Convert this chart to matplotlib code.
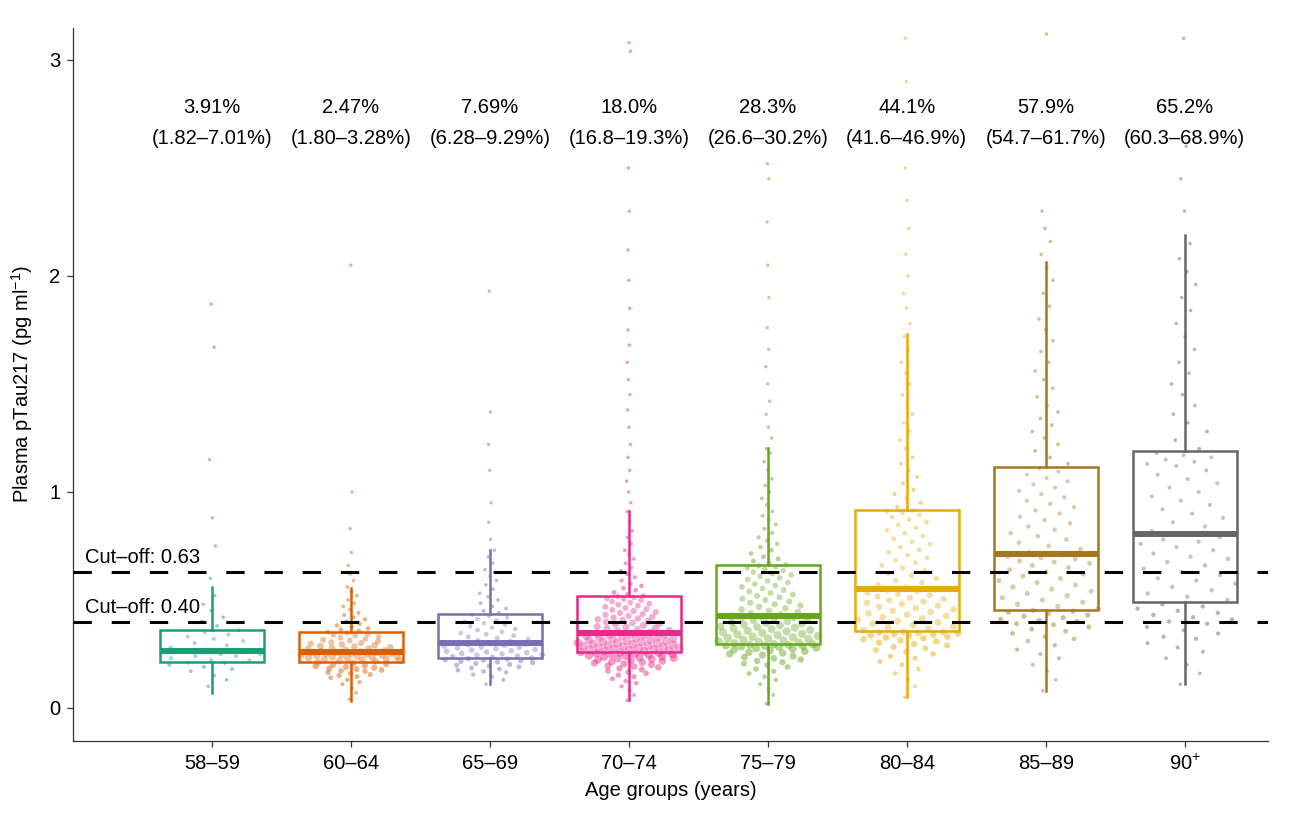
import matplotlib
matplotlib.use("Agg")
import matplotlib.pyplot as plt
import numpy as np

plt.rcParams['font.family'] = ['Liberation Sans', 'DejaVu Sans']
plt.rcParams['mathtext.fontset'] = 'custom'
plt.rcParams['mathtext.rm'] = 'Liberation Sans'
plt.rcParams['mathtext.it'] = 'Liberation Sans'

groups = ["58–59", "60–64", "65–69", "70–74", "75–79", "80–84", "85–89", "90$^{+}$"]
colors = ["#1B9E77", "#D95F02", "#7570B3", "#E7298A", "#66A61E", "#E6AB02", "#A6761D", "#666666"]

# box statistics
q1 = [0.211, 0.215, 0.230, 0.258, 0.297, 0.356, 0.455, 0.489]
med = [0.262, 0.261, 0.302, 0.347, 0.428, 0.550, 0.713, 0.804]
q3 = [0.360, 0.353, 0.434, 0.519, 0.664, 0.915, 1.117, 1.190]
whis_lo = [0.071, 0.034, 0.111, 0.035, 0.020, 0.050, 0.080, 0.110]
whis_hi = [0.562, 0.556, 0.730, 0.912, 1.204, 1.730, 2.065, 2.190]

pct = ["3.91%", "2.47%", "7.69%", "18.0%", "28.3%", "44.1%", "57.9%", "65.2%"]
ci = ["(1.82–7.01%)", "(1.80–3.28%)", "(6.28–9.29%)", "(16.8–19.3%)",
      "(26.6–30.2%)", "(41.6–46.9%)", "(54.7–61.7%)", "(60.3–68.9%)"]

cutoffs = [0.63, 0.40]

# individual measurements (estimated from the point clouds)
pts_58 = [0.10, 0.13, 0.15, 0.17, 0.18, 0.19, 0.20, 0.21, 0.21, 0.22, 0.22, 0.23, 0.24, 0.24,
          0.25, 0.25, 0.26, 0.26, 0.27, 0.28, 0.29, 0.30, 0.31, 0.32, 0.33, 0.34, 0.35, 0.36,
          0.38, 0.40, 0.42, 0.45, 0.48, 0.52, 0.60, 0.75, 0.88, 1.15, 1.67, 1.87]
pts_60 = [0.04, 0.07, 0.09, 0.11, 0.12, 0.13, 0.14, 0.145, 0.15, 0.155, 0.16, 0.165, 0.17, 0.172,
          0.176, 0.18, 0.183, 0.186, 0.19, 0.193, 0.197, 0.20, 0.204, 0.208, 0.212,
          0.216, 0.218, 0.221, 0.223, 0.225, 0.228, 0.23, 0.232, 0.234, 0.236, 0.238, 0.24,
          0.242, 0.244, 0.246, 0.248, 0.25, 0.251, 0.253, 0.254, 0.256, 0.257, 0.258, 0.259, 0.26,
          0.262, 0.265, 0.268, 0.271, 0.274, 0.277, 0.28, 0.284, 0.287, 0.29, 0.294, 0.297, 0.30,
          0.304, 0.308, 0.312, 0.316, 0.32, 0.325, 0.33, 0.334, 0.338, 0.342, 0.347, 0.351,
          0.356, 0.362, 0.368, 0.375, 0.382, 0.39, 0.40, 0.41, 0.42, 0.43, 0.44, 0.455, 0.47,
          0.485, 0.50, 0.52, 0.54, 0.56, 0.59, 0.62, 0.66, 0.72, 0.83, 1.0, 2.05]
pts_65 = [0.11, 0.13, 0.145, 0.155, 0.165, 0.17, 0.175, 0.18, 0.185, 0.19, 0.194, 0.198, 0.202,
          0.206, 0.21, 0.213, 0.216, 0.219, 0.222, 0.224, 0.227, 0.229,
          0.232, 0.235, 0.238, 0.241, 0.244, 0.247, 0.25, 0.253, 0.256, 0.259, 0.262, 0.265,
          0.268, 0.271, 0.274, 0.277, 0.28, 0.283, 0.286, 0.289, 0.292, 0.295, 0.298,
          0.303, 0.308, 0.313, 0.318, 0.323, 0.329, 0.335, 0.341, 0.347, 0.353, 0.36, 0.366,
          0.372, 0.378, 0.385, 0.392, 0.399, 0.405, 0.412, 0.418, 0.425, 0.431,
          0.44, 0.45, 0.46, 0.47, 0.485, 0.50, 0.515, 0.53, 0.55, 0.57, 0.59, 0.61, 0.64, 0.67,
          0.70, 0.73, 0.78, 0.86, 0.95, 1.1, 1.22, 1.37, 1.93]
pts_70 = [0.035, 0.06, 0.08, 0.10, 0.115, 0.125, 0.135, 0.145, 0.152, 0.16, 0.166, 0.172, 0.178,
          0.183, 0.188, 0.192, 0.196, 0.20, 0.204, 0.208, 0.211, 0.214, 0.217, 0.22, 0.223,
          0.226, 0.229, 0.231, 0.234, 0.236, 0.239, 0.241, 0.243, 0.246, 0.248, 0.25, 0.252,
          0.254, 0.256, 0.257,
          0.26, 0.262, 0.264, 0.266, 0.268, 0.27, 0.272, 0.274, 0.276, 0.278, 0.28, 0.282, 0.284,
          0.286, 0.288, 0.29, 0.292, 0.294, 0.296, 0.298, 0.30, 0.302, 0.305, 0.307, 0.309,
          0.311, 0.314, 0.316, 0.318, 0.321, 0.323, 0.326, 0.328, 0.331, 0.333, 0.336, 0.338,
          0.341, 0.343, 0.346,
          0.35, 0.354, 0.358, 0.362, 0.366, 0.37, 0.374, 0.378, 0.382, 0.386, 0.39, 0.394, 0.398,
          0.402, 0.406, 0.41, 0.414, 0.418, 0.422, 0.426, 0.431, 0.435, 0.44, 0.444, 0.449,
          0.454, 0.458, 0.463, 0.468, 0.473, 0.478, 0.483, 0.488, 0.493, 0.498, 0.503, 0.507,
          0.511, 0.515, 0.518,
          0.525, 0.535, 0.545, 0.555, 0.565, 0.575, 0.59, 0.605, 0.62, 0.635, 0.65, 0.67, 0.69,
          0.71, 0.73, 0.76, 0.79, 0.82, 0.86, 0.91, 0.95, 1.0, 1.05, 1.1, 1.16, 1.22, 1.3, 1.38,
          1.45, 1.52, 1.6, 1.68, 1.75, 1.85, 1.98, 2.12, 2.3, 2.5, 3.04, 3.08]
pts_75 = [0.02, 0.06, 0.09, 0.11, 0.13, 0.145, 0.16, 0.17, 0.18, 0.19, 0.198, 0.205, 0.212,
          0.218, 0.224, 0.23, 0.235, 0.24, 0.245, 0.25, 0.254, 0.258, 0.262, 0.266, 0.27,
          0.273, 0.276, 0.279, 0.282, 0.284, 0.286, 0.288, 0.29, 0.292, 0.293, 0.295, 0.296,
          0.30, 0.303, 0.306, 0.309, 0.312, 0.315, 0.318, 0.321, 0.324, 0.327, 0.33, 0.333,
          0.337, 0.34, 0.343, 0.347, 0.35, 0.354, 0.357, 0.361, 0.364, 0.368, 0.371, 0.375,
          0.378, 0.382, 0.386, 0.39, 0.393, 0.397, 0.401, 0.405, 0.408, 0.412, 0.416, 0.419,
          0.423, 0.426,
          0.432, 0.438, 0.444, 0.45, 0.456, 0.462, 0.468, 0.474, 0.48, 0.487, 0.493, 0.5, 0.506,
          0.512, 0.519, 0.525, 0.532, 0.539, 0.546, 0.553, 0.56, 0.567, 0.574, 0.581, 0.588,
          0.595, 0.602, 0.609, 0.616, 0.622, 0.629, 0.636, 0.642, 0.648, 0.653, 0.658, 0.662,
          0.67, 0.68, 0.69, 0.70, 0.715, 0.73, 0.745, 0.76, 0.775, 0.79, 0.81, 0.83, 0.85, 0.87,
          0.89, 0.91, 0.94, 0.97, 1.0, 1.03, 1.06, 1.1, 1.14, 1.18, 1.2, 1.25, 1.3, 1.36, 1.42,
          1.5, 1.58, 1.66, 1.76, 1.9, 2.05, 2.25, 2.45, 2.52]
pts_80 = [0.05, 0.1, 0.13, 0.16, 0.18, 0.2, 0.215, 0.23, 0.24, 0.25, 0.26, 0.268, 0.276, 0.283,
          0.29, 0.296, 0.302, 0.308, 0.313, 0.318, 0.322, 0.326, 0.33, 0.334, 0.337, 0.34,
          0.343, 0.346, 0.348, 0.35, 0.352, 0.354,
          0.36, 0.366, 0.372, 0.378, 0.384, 0.39, 0.396, 0.402, 0.408, 0.414, 0.42, 0.426,
          0.432, 0.438, 0.444, 0.45, 0.456, 0.462, 0.468, 0.474, 0.48, 0.486, 0.492, 0.498,
          0.504, 0.51, 0.516, 0.522, 0.528, 0.534, 0.54, 0.544, 0.548,
          0.56, 0.57, 0.58, 0.59, 0.60, 0.612, 0.624, 0.636, 0.648, 0.66, 0.672, 0.684, 0.696,
          0.708, 0.72, 0.732, 0.745, 0.758, 0.77, 0.783, 0.796, 0.809, 0.822, 0.835, 0.848,
          0.86, 0.872, 0.884, 0.895, 0.903, 0.909, 0.913,
          0.93, 0.95, 0.97, 0.99, 1.01, 1.04, 1.07, 1.1, 1.13, 1.16, 1.2, 1.24, 1.28, 1.32,
          1.36, 1.4, 1.45, 1.5, 1.55, 1.6, 1.66, 1.72, 1.78, 1.85, 1.92, 2.0, 2.1, 2.22, 2.35,
          2.5, 2.62, 2.9, 3.1]
pts_85 = [0.08, 0.13, 0.17, 0.2, 0.23, 0.25, 0.27, 0.29, 0.31, 0.32, 0.33, 0.345, 0.355, 0.365,
          0.375, 0.385, 0.39, 0.4, 0.405, 0.41, 0.418, 0.425, 0.43, 0.437, 0.443, 0.448, 0.452,
          0.46, 0.47, 0.48, 0.49, 0.5, 0.51, 0.52, 0.53, 0.54, 0.55, 0.56, 0.57, 0.58, 0.59,
          0.6, 0.61, 0.62, 0.63, 0.64, 0.65, 0.66, 0.67, 0.675, 0.68, 0.69, 0.695, 0.7, 0.708,
          0.72, 0.735, 0.75, 0.765, 0.78, 0.795, 0.81, 0.825, 0.84, 0.855, 0.87, 0.885, 0.9,
          0.915, 0.93, 0.945, 0.96, 0.975, 0.99, 1.005, 1.02, 1.035, 1.05, 1.065, 1.08, 1.095,
          1.11,
          1.13, 1.16, 1.19, 1.22, 1.25, 1.28, 1.31, 1.34, 1.37, 1.4, 1.44, 1.48, 1.52, 1.56,
          1.6, 1.65, 1.7, 1.75, 1.8, 1.86, 1.92, 1.98, 2.04, 2.1, 2.16, 2.22, 2.3, 3.12]
pts_90 = [0.11, 0.16, 0.2, 0.23, 0.26, 0.28, 0.3, 0.32, 0.33, 0.345, 0.36, 0.375, 0.39, 0.4,
          0.41, 0.42, 0.43, 0.44, 0.45, 0.46, 0.47, 0.48,
          0.5, 0.515, 0.53, 0.545, 0.56, 0.575, 0.59, 0.6, 0.615, 0.63, 0.645, 0.66, 0.675,
          0.69, 0.7, 0.715, 0.73, 0.745, 0.76, 0.77, 0.78, 0.79, 0.8,
          0.82, 0.84, 0.86, 0.88, 0.9, 0.92, 0.94, 0.96, 0.98, 1.0, 1.02, 1.04, 1.06, 1.08,
          1.1, 1.12, 1.13, 1.14, 1.15, 1.16, 1.17, 1.18,
          1.2, 1.24, 1.28, 1.32, 1.36, 1.4, 1.45, 1.5, 1.55, 1.6, 1.66, 1.72, 1.78, 1.84, 1.9,
          1.96, 2.02, 2.08, 2.15, 2.3, 2.45, 2.6, 3.1]
points = [pts_58, pts_60, pts_65, pts_70, pts_75, pts_80, pts_85, pts_90]

# largest dot size per group (dense cores of the big groups look solid in the original)
dot_max = [10, 28, 16, 40, 36, 24, 14, 10]
dot_min = 6


def sina_layout(vals, half, bw):
    # horizontal spread proportional to local density (sina-style layout)
    v = np.asarray(vals, dtype=float)
    d = np.exp(-((v[:, None] - v[None, :]) ** 2) / (2 * bw ** 2)).sum(axis=1)
    rel = d / d.max()
    rank = np.argsort(np.argsort(v))
    u = ((rank * 0.618034 + 0.31) % 1.0) * 2 - 1
    return u * half * rel, rel


fig = plt.figure(figsize=(13.05, 8.16), dpi=100)
ax = fig.add_axes([0.0559, 0.0919, 0.9158, 0.8738])

for i in range(len(groups)):
    x = i + 1
    vals = points[i]
    bw = 0.12 * (q3[i] - q1[i]) + 0.02
    off, rel = sina_layout(vals, 0.38, bw)
    sizes = dot_min + (dot_max[i] - dot_min) * rel ** 1.5
    ax.scatter(x + off, vals, s=sizes, color=colors[i],
               alpha=0.48, linewidths=0, zorder=2)

    stats = [dict(med=med[i], q1=q1[i], q3=q3[i], whislo=whis_lo[i], whishi=whis_hi[i], fliers=[])]
    ax.bxp(stats, positions=[x], widths=0.75, showcaps=False, showfliers=False,
           patch_artist=True, manage_ticks=False,
           boxprops=dict(facecolor=(1, 1, 1, 0.2), edgecolor=colors[i], linewidth=1.8),
           whiskerprops=dict(color=colors[i], linewidth=1.8),
           medianprops=dict(color=colors[i], linewidth=4.3, solid_capstyle='butt'),
           zorder=3)

    ax.text(x, 2.78, pct[i], ha='center', va='center', fontsize=14.5)
    ax.text(x, 2.637, ci[i], ha='center', va='center', fontsize=14.5)

for c in cutoffs:
    ax.axhline(c, color='black', linewidth=2.2, dashes=(6, 6.5), zorder=4)
    ax.text(0.086, c + 0.066, "Cut–off: %.2f" % c, ha='left', va='center', fontsize=14.5)

ax.set_xlim(0.0, 8.6)
ax.set_ylim(-0.153, 3.148)
ax.set_xticks(range(1, len(groups) + 1))
ax.set_xticklabels(groups)
ax.set_yticks([0, 1, 2, 3])
ax.tick_params(labelsize=14.5, length=4, color='#333333', width=0.9, pad=5)
ax.set_xlabel("Age groups (years)", fontsize=14.5, labelpad=5)
ax.set_ylabel("Plasma pTau217 (pg ml$^{-1}$)", fontsize=14.5, labelpad=10)
for s in ['top', 'right']:
    ax.spines[s].set_visible(False)
for s in ['left', 'bottom']:
    ax.spines[s].set_color('#333333')
    ax.spines[s].set_linewidth(0.9)

fig.savefig("out.png", dpi=100)
